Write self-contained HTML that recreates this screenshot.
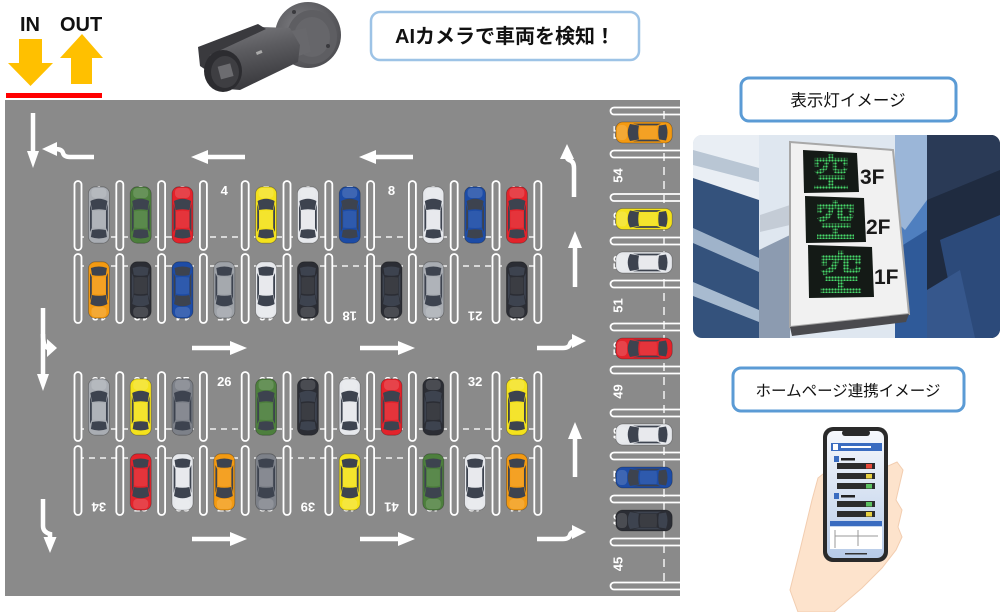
<!DOCTYPE html>
<html><head><meta charset="utf-8"><style>
html,body{margin:0;padding:0;background:#fff;}
svg{display:block;}
text{font-family:"Liberation Sans","Noto Sans CJK JP",sans-serif;}
</style></head><body>
<svg width="1000" height="612" viewBox="0 0 1000 612" xmlns="http://www.w3.org/2000/svg">
<defs>
<symbol id="car" viewBox="0 0 23 58">
<rect x="1" y="0.8" width="21" height="56.4" rx="7" fill="currentColor" stroke="#000" stroke-opacity="0.3" stroke-width="0.8"/>
<rect x="4" y="2" width="15" height="10" rx="4" fill="#fff" fill-opacity="0.15"/>
<path d="M3 15 Q11.5 10.5 20 15 L18.5 24 Q11.5 22.5 4.5 24 Z" fill="#3d434f"/>
<path d="M2.6 18 L4.4 25 L4.4 42 L2.6 46 Z" fill="#3d434f"/>
<path d="M20.4 18 L18.6 25 L18.6 42 L20.4 46 Z" fill="#3d434f"/>
<path d="M4.6 44 Q11.5 42.5 18.4 44 L19.5 51 Q11.5 54 3.5 51 Z" fill="#3d434f"/>
<path d="M5 25.5 Q11.5 24 18 25.5 L18 41.5 Q11.5 42.5 5 41.5 Z" fill="#fff" fill-opacity="0.08"/>
</symbol>
<g id="pillrow" fill="#8a8a8a" stroke="#fff" stroke-width="1.8">
<rect x="74.5" y="0" width="7" height="69" rx="3.5"/>
<rect x="116.3" y="0" width="7" height="69" rx="3.5"/>
<rect x="158.1" y="0" width="7" height="69" rx="3.5"/>
<rect x="199.9" y="0" width="7" height="69" rx="3.5"/>
<rect x="241.7" y="0" width="7" height="69" rx="3.5"/>
<rect x="283.5" y="0" width="7" height="69" rx="3.5"/>
<rect x="325.3" y="0" width="7" height="69" rx="3.5"/>
<rect x="367.1" y="0" width="7" height="69" rx="3.5"/>
<rect x="408.9" y="0" width="7" height="69" rx="3.5"/>
<rect x="450.7" y="0" width="7" height="69" rx="3.5"/>
<rect x="492.5" y="0" width="7" height="69" rx="3.5"/>
<rect x="534.3" y="0" width="7" height="69" rx="3.5"/>
</g>
<pattern id="dots" width="3" height="3" patternUnits="userSpaceOnUse"><circle cx="1.5" cy="1.5" r="1.15" fill="#47d96a"/></pattern>
<linearGradient id="camg" x1="0" y1="0" x2="0.3" y2="1"><stop offset="0" stop-color="#7e7e82"/><stop offset="0.45" stop-color="#5c5c60"/><stop offset="1" stop-color="#3a3a3e"/></linearGradient>
<radialGradient id="discg" cx="0.4" cy="0.4" r="0.7"><stop offset="0" stop-color="#808084"/><stop offset="1" stop-color="#4a4a4e"/></radialGradient>
<linearGradient id="scr" x1="0" y1="0" x2="0" y2="1"><stop offset="0" stop-color="#f6f8fc"/><stop offset="1" stop-color="#b7cbe8"/></linearGradient>
<clipPath id="photoclip"><rect x="693" y="135" width="307" height="203" rx="9"/></clipPath>
<clipPath id="lotclip"><rect x="5" y="100" width="675" height="496"/></clipPath>
</defs>

<!-- IN / OUT -->
<text x="20" y="31" font-size="20" font-weight="bold" fill="#111">IN</text>
<text x="60" y="31" font-size="20" font-weight="bold" fill="#111">OUT</text>
<polygon points="19,39 42,39 42,63 53,63 30.5,86 8,63 19,63" fill="#ffc000"/>
<polygon points="82,34 103,58 92,58 92,84 71,84 71,58 60,58" fill="#ffc000"/>
<rect x="6" y="93" width="96" height="5" fill="#ff0000"/>

<!-- camera -->
<g>
<ellipse cx="308" cy="35" rx="33" ry="33" fill="url(#discg)"/>
<ellipse cx="312" cy="37" rx="25" ry="27" fill="#5e5e62"/>
<ellipse cx="312" cy="37" rx="18" ry="20" fill="#66666a"/>
<circle cx="294" cy="12" r="2" fill="#3a3a3e"/>
<circle cx="328" cy="46" r="2" fill="#3a3a3e"/>
<polygon points="286,32 306,28 311,52 292,58" fill="#68686c"/>
<polygon points="205,50 262,27 290,28 300,45 298,62 240,90 215,88" fill="url(#camg)"/>
<polygon points="198,47 258,24 266,29 210,55 206,70 200,66" fill="#3a3a3e"/>
<ellipse cx="223" cy="71" rx="19" ry="21" fill="#2c2c30"/>
<ellipse cx="225" cy="72" rx="14" ry="16" fill="#3e3e42"/>
<rect x="219" y="65" width="13" height="13" fill="#6c6c70" transform="rotate(-15,225,71)"/>
<rect x="256" y="51" width="6" height="3" fill="#aaa" transform="rotate(-22,259,52)"/>
</g>

<!-- label box 1 -->
<rect x="371" y="12" width="268" height="48" rx="9" fill="#fff" stroke="#9dc3e6" stroke-width="2.5"/>
<text x="505" y="43" font-size="20" font-weight="bold" text-anchor="middle" fill="#111">AIカメラで車両を検知！</text>

<!-- parking lot -->
<rect x="5" y="100" width="675" height="496" fill="#8a8a8a"/>
<g clip-path="url(#lotclip)">
<g stroke="#f2f2f2" stroke-width="1.5" stroke-dasharray="6 5">
<line x1="78" y1="237" x2="538" y2="237"/>
<line x1="78" y1="266" x2="538" y2="266"/>
<line x1="78" y1="429" x2="538" y2="429"/>
<line x1="78" y1="458" x2="538" y2="458"/>
<line x1="664" y1="111" x2="664" y2="586" stroke-dasharray="8 6"/>
</g>
<use href="#pillrow" y="181"/>
<use href="#pillrow" y="254"/>
<use href="#pillrow" y="372"/>
<use href="#pillrow" y="446"/>
<g fill="none" stroke="#fff" stroke-width="1.8">
<path d="M685,107.5 H614 A3.5,3.5 0 0 0 614,114.5 H685"/>
<path d="M685,150.5 H614 A3.5,3.5 0 0 0 614,157.5 H685"/>
<path d="M685,194 H614 A3.5,3.5 0 0 0 614,201 H685"/>
<path d="M685,237.5 H614 A3.5,3.5 0 0 0 614,244.5 H685"/>
<path d="M685,280.5 H614 A3.5,3.5 0 0 0 614,287.5 H685"/>
<path d="M685,323.5 H614 A3.5,3.5 0 0 0 614,330.5 H685"/>
<path d="M685,366.5 H614 A3.5,3.5 0 0 0 614,373.5 H685"/>
<path d="M685,409.5 H614 A3.5,3.5 0 0 0 614,416.5 H685"/>
<path d="M685,452.5 H614 A3.5,3.5 0 0 0 614,459.5 H685"/>
<path d="M685,495.5 H614 A3.5,3.5 0 0 0 614,502.5 H685"/>
<path d="M685,538.5 H614 A3.5,3.5 0 0 0 614,545.5 H685"/>
<path d="M685,582.5 H614 A3.5,3.5 0 0 0 614,589.5 H685"/>
</g>

<g font-size="13" font-weight="bold" fill="#fff" text-anchor="middle">
<text x="98.9" y="195">1</text><text x="140.7" y="195">2</text><text x="182.5" y="195">3</text><text x="224.3" y="195">4</text><text x="266.1" y="195">5</text><text x="307.9" y="195">6</text><text x="349.7" y="195">7</text><text x="391.5" y="195">8</text><text x="433.3" y="195">9</text><text x="475.1" y="195">10</text><text x="516.9" y="195">11</text>
<text x="98.9" y="386">23</text><text x="140.7" y="386">24</text><text x="182.5" y="386">25</text><text x="224.3" y="386">26</text><text x="266.1" y="386">27</text><text x="307.9" y="386">28</text><text x="349.7" y="386">29</text><text x="391.5" y="386">30</text><text x="433.3" y="386">31</text><text x="475.1" y="386">32</text><text x="516.9" y="386">33</text>
<g transform="translate(98.9,316) rotate(180)"><text y="4.5">12</text></g>
<g transform="translate(140.7,316) rotate(180)"><text y="4.5">13</text></g>
<g transform="translate(182.5,316) rotate(180)"><text y="4.5">14</text></g>
<g transform="translate(224.3,316) rotate(180)"><text y="4.5">15</text></g>
<g transform="translate(266.1,316) rotate(180)"><text y="4.5">16</text></g>
<g transform="translate(307.9,316) rotate(180)"><text y="4.5">17</text></g>
<g transform="translate(349.7,316) rotate(180)"><text y="4.5">18</text></g>
<g transform="translate(391.5,316) rotate(180)"><text y="4.5">19</text></g>
<g transform="translate(433.3,316) rotate(180)"><text y="4.5">20</text></g>
<g transform="translate(475.1,316) rotate(180)"><text y="4.5">21</text></g>
<g transform="translate(516.9,316) rotate(180)"><text y="4.5">22</text></g>
<g transform="translate(98.9,507) rotate(180)"><text y="4.5">34</text></g>
<g transform="translate(140.7,507) rotate(180)"><text y="4.5">35</text></g>
<g transform="translate(182.5,507) rotate(180)"><text y="4.5">36</text></g>
<g transform="translate(224.3,507) rotate(180)"><text y="4.5">37</text></g>
<g transform="translate(266.1,507) rotate(180)"><text y="4.5">38</text></g>
<g transform="translate(307.9,507) rotate(180)"><text y="4.5">39</text></g>
<g transform="translate(349.7,507) rotate(180)"><text y="4.5">40</text></g>
<g transform="translate(391.5,507) rotate(180)"><text y="4.5">41</text></g>
<g transform="translate(433.3,507) rotate(180)"><text y="4.5">42</text></g>
<g transform="translate(475.1,507) rotate(180)"><text y="4.5">43</text></g>
<g transform="translate(516.9,507) rotate(180)"><text y="4.5">44</text></g>
<g transform="translate(618,132.5) rotate(-90)"><text y="4.5">55</text></g>
<g transform="translate(618,175.5) rotate(-90)"><text y="4.5">54</text></g>
<g transform="translate(618,219) rotate(-90)"><text y="4.5">53</text></g>
<g transform="translate(618,262.5) rotate(-90)"><text y="4.5">52</text></g>
<g transform="translate(618,305.5) rotate(-90)"><text y="4.5">51</text></g>
<g transform="translate(618,348.5) rotate(-90)"><text y="4.5">50</text></g>
<g transform="translate(618,391.5) rotate(-90)"><text y="4.5">49</text></g>
<g transform="translate(618,434.5) rotate(-90)"><text y="4.5">48</text></g>
<g transform="translate(618,477.5) rotate(-90)"><text y="4.5">47</text></g>
<g transform="translate(618,520.5) rotate(-90)"><text y="4.5">46</text></g>
<g transform="translate(618,564) rotate(-90)"><text y="4.5">45</text></g>
</g>

<use href="#car" x="87.4" y="186" width="23" height="58" color="#a9adb3"/>
<use href="#car" x="129.2" y="186" width="23" height="58" color="#4d7f3d"/>
<use href="#car" x="171" y="186" width="23" height="58" color="#e3232b"/>
<use href="#car" x="254.6" y="186" width="23" height="58" color="#f4e21c"/>
<use href="#car" x="296.4" y="186" width="23" height="58" color="#e6e8ec"/>
<use href="#car" x="338.2" y="186" width="23" height="58" color="#1d4ca6"/>
<use href="#car" x="421.8" y="186" width="23" height="58" color="#e6e8ec"/>
<use href="#car" x="463.6" y="186" width="23" height="58" color="#1d4ca6"/>
<use href="#car" x="505.4" y="186" width="23" height="58" color="#e3232b"/>
<use href="#car" x="87.4" y="261" width="23" height="58" color="#f39a12" transform="rotate(180,98.9,290)"/>
<use href="#car" x="129.2" y="261" width="23" height="58" color="#2b2d34" transform="rotate(180,140.7,290)"/>
<use href="#car" x="171" y="261" width="23" height="58" color="#1d4ca6" transform="rotate(180,182.5,290)"/>
<use href="#car" x="212.8" y="261" width="23" height="58" color="#9ea2a8" transform="rotate(180,224.3,290)"/>
<use href="#car" x="254.6" y="261" width="23" height="58" color="#e6e8ec" transform="rotate(180,266.1,290)"/>
<use href="#car" x="296.4" y="261" width="23" height="58" color="#2b2d34" transform="rotate(180,307.9,290)"/>
<use href="#car" x="380" y="261" width="23" height="58" color="#2b2d34" transform="rotate(180,391.5,290)"/>
<use href="#car" x="421.8" y="261" width="23" height="58" color="#a9adb3" transform="rotate(180,433.3,290)"/>
<use href="#car" x="505.4" y="261" width="23" height="58" color="#2b2d34" transform="rotate(180,516.9,290)"/>
<use href="#car" x="87.4" y="378" width="23" height="58" color="#a9adb3"/>
<use href="#car" x="129.2" y="378" width="23" height="58" color="#f4e21c"/>
<use href="#car" x="171" y="378" width="23" height="58" color="#7d8189"/>
<use href="#car" x="254.6" y="378" width="23" height="58" color="#4d7f3d"/>
<use href="#car" x="296.4" y="378" width="23" height="58" color="#2b2d34"/>
<use href="#car" x="338.2" y="378" width="23" height="58" color="#e6e8ec"/>
<use href="#car" x="380" y="378" width="23" height="58" color="#e3232b"/>
<use href="#car" x="421.8" y="378" width="23" height="58" color="#2b2d34"/>
<use href="#car" x="505.4" y="378" width="23" height="58" color="#f4e21c"/>
<use href="#car" x="129.2" y="453" width="23" height="58" color="#e3232b" transform="rotate(180,140.7,482)"/>
<use href="#car" x="171" y="453" width="23" height="58" color="#e6e8ec" transform="rotate(180,182.5,482)"/>
<use href="#car" x="212.8" y="453" width="23" height="58" color="#f39a12" transform="rotate(180,224.3,482)"/>
<use href="#car" x="254.6" y="453" width="23" height="58" color="#7d8189" transform="rotate(180,266.1,482)"/>
<use href="#car" x="338.2" y="453" width="23" height="58" color="#f4e21c" transform="rotate(180,349.7,482)"/>
<use href="#car" x="421.8" y="453" width="23" height="58" color="#4d7f3d" transform="rotate(180,433.3,482)"/>
<use href="#car" x="463.6" y="453" width="23" height="58" color="#e6e8ec" transform="rotate(180,475.1,482)"/>
<use href="#car" x="505.4" y="453" width="23" height="58" color="#f39a12" transform="rotate(180,516.9,482)"/>
<use href="#car" x="0" y="0" width="23" height="58" color="#f39a12" transform="translate(615,144) rotate(-90)"/>
<use href="#car" x="0" y="0" width="23" height="58" color="#f4e21c" transform="translate(615,230.5) rotate(-90)"/>
<use href="#car" x="0" y="0" width="23" height="58" color="#e6e8ec" transform="translate(615,274) rotate(-90)"/>
<use href="#car" x="0" y="0" width="23" height="58" color="#e3232b" transform="translate(615,360) rotate(-90)"/>
<use href="#car" x="0" y="0" width="23" height="58" color="#e6e8ec" transform="translate(615,446) rotate(-90)"/>
<use href="#car" x="0" y="0" width="23" height="58" color="#1d4ca6" transform="translate(615,489) rotate(-90)"/>
<use href="#car" x="0" y="0" width="23" height="58" color="#2b2d34" transform="translate(615,532) rotate(-90)"/>

<g fill="none" stroke="#fff" stroke-width="4.5">
<line x1="33" y1="113" x2="33" y2="153"/>
<path d="M55,149 Q62,149 63,153 Q64,157 70,157 L94,157"/>
<line x1="206" y1="157" x2="245" y2="157"/>
<line x1="374" y1="157" x2="413" y2="157"/>
<line x1="192" y1="348" x2="231" y2="348"/>
<line x1="360" y1="348" x2="399" y2="348"/>
<line x1="192" y1="539" x2="231" y2="539"/>
<line x1="360" y1="539" x2="399" y2="539"/>
<line x1="575" y1="287" x2="575" y2="246"/>
<line x1="575" y1="477" x2="575" y2="437"/>
<path d="M574,197 V168 Q574,161 569,160 Q567,159 567,157"/>
<path d="M537,348 H563 Q569,348 570,344 Q571,341 574,341"/>
<path d="M537,539 H563 Q569,539 570,535 Q571,532 574,532"/>
<line x1="43" y1="308" x2="43" y2="376"/>
<path d="M43,334 Q43,348 49,348"/>
<path d="M43,499 V526 Q43,532 50,534 V539"/>
</g>
<g fill="#fff">
<polygon points="27,151 39,151 33,168"/>
<polygon points="42,149 57,142 57,156"/>
<polygon points="191,157 208,150 208,164"/>
<polygon points="359,157 376,150 376,164"/>
<polygon points="247,348 230,341 230,355"/>
<polygon points="415,348 398,341 398,355"/>
<polygon points="247,539 230,532 230,546"/>
<polygon points="415,539 398,532 398,546"/>
<polygon points="575,231 568,248 582,248"/>
<polygon points="575,422 568,439 582,439"/>
<polygon points="567,144 560,159 574,159"/>
<polygon points="586,341 572,334 572,348"/>
<polygon points="586,532 572,525 572,539"/>
<polygon points="37,374 49,374 43,391"/>
<polygon points="57,348 47,339 47,357"/>
<polygon points="43.5,537 56.5,537 50,553"/>
</g>
</g>

<rect x="741" y="78" width="215" height="43" rx="8" fill="#fff" stroke="#5b9bd5" stroke-width="3"/>
<text x="848" y="106" font-size="16.5" text-anchor="middle" fill="#111">表示灯イメージ</text>

<g clip-path="url(#photoclip)">
<rect x="693" y="135" width="307" height="203" fill="#cfdae6"/>
<rect x="693" y="135" width="66" height="203" fill="#e9eef4"/>
<polygon points="693,178 759,200 759,338 693,338" fill="#34527c"/>
<polygon points="693,150 759,168 759,182 693,165" fill="#b9c6d4"/>
<polygon points="693,228 759,258 759,272 693,243" fill="#9fb3ca"/>
<polygon points="693,282 759,310 759,322 693,296" fill="#a8bbd0"/>
<rect x="759" y="135" width="168" height="203" fill="#dfe7f0"/>
<polygon points="759,250 790,235 790,338 759,338" fill="#8c9bb0"/>
<polygon points="760,215 790,205 790,225 760,232" fill="#c4ccd6"/>
<rect x="895" y="135" width="32" height="203" fill="#4f7fbf"/>
<polygon points="895,135 927,135 927,200 905,230 895,220" fill="#9bb6d8"/>
<polygon points="895,250 927,230 927,338 895,338" fill="#2f5a99"/>
<rect x="927" y="135" width="73" height="203" fill="#1f2b40"/>
<polygon points="927,135 1000,135 1000,170 927,200" fill="#2a3a56"/>
<polygon points="940,240 1000,215 1000,338 960,338" fill="#2c4a7a"/>
<polygon points="927,290 960,270 975,338 927,338" fill="#36578c"/>
<polygon points="790,142 893,150 909,314 790,327" fill="#f1f1f1" stroke="#a8a8a8" stroke-width="2"/>
<polygon points="790,327 909,314 906,322 792,336" fill="#4a4a4e"/>
<polygon points="803,150 857,153 859,192 804,193" fill="#141a16"/>
<polygon points="805,196 864,198 866,242 806,243" fill="#141a16"/>
<polygon points="808,245 872,247 874,297 809,298" fill="#141a16"/>
<text x="831" y="187" font-size="38" font-weight="bold" text-anchor="middle" fill="url(#dots)" font-family="'Noto Sans CJK JP',sans-serif">空</text>
<text x="835.5" y="236" font-size="42" font-weight="bold" text-anchor="middle" fill="url(#dots)" font-family="'Noto Sans CJK JP',sans-serif">空</text>
<text x="841" y="290" font-size="46" font-weight="bold" text-anchor="middle" fill="url(#dots)" font-family="'Noto Sans CJK JP',sans-serif">空</text>
<text x="860" y="184" font-size="21" font-weight="bold" fill="#1a1a1a">3F</text>
<text x="866" y="234" font-size="21" font-weight="bold" fill="#1a1a1a">2F</text>
<text x="874" y="284" font-size="21" font-weight="bold" fill="#1a1a1a">1F</text>
</g>

<rect x="733" y="368" width="231" height="43" rx="8" fill="#fff" stroke="#5b9bd5" stroke-width="3"/>
<text x="848" y="396" font-size="15.5" text-anchor="middle" fill="#111">ホームページ連携イメージ</text>

<polygon points="790,590 800,550 812,500 818,478 828,470 888,466 897,462 903,470 896,500 902,510 898,527 902,537 896,550 882,568 862,588 834,612 798,612" fill="#fde3cc" stroke="#f2cdb0" stroke-width="1"/>
<rect x="823" y="427" width="65" height="135" rx="10" fill="#2a2a2a"/>
<rect x="827" y="431" width="57" height="127" rx="7" fill="url(#scr)"/>
<rect x="842" y="430" width="28" height="6" rx="3" fill="#2a2a2a"/>
<rect x="831" y="443" width="51" height="8" fill="#3a6cc0"/>
<rect x="833" y="444" width="5" height="6" fill="#fff"/>
<rect x="841" y="446" width="30" height="2" fill="#fff"/>
<rect x="834" y="456" width="5" height="6" fill="#3a6cc0"/>
<rect x="841" y="458" width="14" height="2.5" fill="#222"/>
<rect x="837" y="463" width="38" height="6" fill="#2c2c2c"/>
<rect x="866" y="464" width="6" height="4.5" fill="#e84a3a"/>
<rect x="837" y="473" width="38" height="6" fill="#2c2c2c"/>
<rect x="866" y="474" width="6" height="4.5" fill="#e8d040"/>
<rect x="837" y="483" width="38" height="6" fill="#2c2c2c"/>
<rect x="866" y="484" width="6" height="4.5" fill="#5cc060"/>
<rect x="834" y="493" width="5" height="6" fill="#3a6cc0"/>
<rect x="841" y="495" width="14" height="2.5" fill="#222"/>
<rect x="837" y="501" width="38" height="6" fill="#2c2c2c"/>
<rect x="866" y="502" width="6" height="4.5" fill="#5cc060"/>
<rect x="837" y="511" width="38" height="6" fill="#2c2c2c"/>
<rect x="866" y="512" width="6" height="4.5" fill="#e8d040"/>
<rect x="830" y="521" width="52" height="5" fill="#3a6cc0"/>
<rect x="830" y="527" width="52" height="22" fill="#fff"/>
<path d="M835,530 V548 M835,536 H878 M858,530 V546" stroke="#999" stroke-width="1" fill="none"/>
<rect x="845" y="553" width="22" height="1.5" fill="#333"/>
</svg>
</body></html>
